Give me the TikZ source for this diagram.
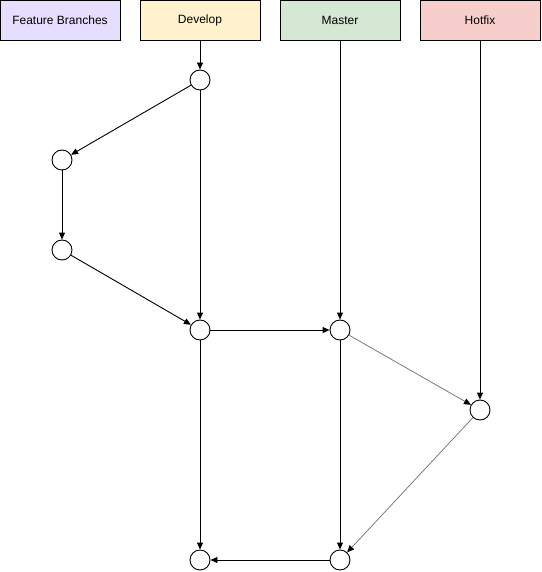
\documentclass[tikz,border=0pt]{standalone}
\usepackage{fontspec}
\setmainfont{Liberation Sans}
\usepackage{xcolor}
\usetikzlibrary{arrows.meta}

\definecolor{featfill}{HTML}{E6DEFF}
\definecolor{devfill}{HTML}{FFF2CC}
\definecolor{mastfill}{HTML}{D5E8D4}
\definecolor{hotfill}{HTML}{F8CECC}
\definecolor{hotline}{HTML}{6E6E6E}

\tikzset{
  branch/.style={draw, line width=0.9pt, minimum width=120pt, minimum height=40pt,
    inner sep=0pt, font=\fontsize{12}{14}\selectfont},
  commit/.style={draw, circle, line width=0.9pt, minimum size=20pt, inner sep=0pt, fill=white},
  flow/.style={line width=0.9pt, -{Triangle[length=7pt,width=6pt]}},
  fixflow/.style={draw=hotline, line width=0.7pt, -{Triangle[length=7pt,width=6pt,color=black]}}
}

\begin{document}
\begin{tikzpicture}[x=1pt, y=-1pt]
    \useasboundingbox (0,0) rectangle (541,572);

    % Branch headers
    \node[branch, fill=featfill] (feat) at (60,20) {Feature Branches};
    \node[branch, fill=devfill] (dev) at (200,20) {Develop};
    \node[branch, fill=mastfill] (mast) at (340,20) {Master};
    \node[branch, fill=hotfill] (hot) at (480,20) {Hotfix};

    % Commits
    \node[commit] (d1) at (200,80) {};
    \node[commit] (f1) at (62,160) {};
    \node[commit] (f2) at (62,250) {};
    \node[commit] (d2) at (200,330) {};
    \node[commit] (m1) at (340,330) {};
    \node[commit] (h1) at (480,410) {};
    \node[commit] (d3) at (200,560) {};
    \node[commit] (m2) at (340,560) {};

    % Develop
    \draw[flow] (dev) -- (d1);
    \draw[flow] (d1) -- (d2);
    \draw[flow] (d2) -- (d3);

    % Feature branch
    \draw[flow] (d1) -- (f1);
    \draw[flow] (f1) -- (f2);
    \draw[flow] (f2) -- (d2);

    % Master
    \draw[flow] (mast) -- (m1);
    \draw[flow] (d2) -- (m1);
    \draw[flow] (m1) -- (m2);
    \draw[flow] (m2) -- (d3);

    % Hotfix
    \draw[flow] (hot) -- (h1);
    \draw[fixflow] (m1) -- (h1);
    \draw[fixflow] (h1) -- (m2);
\end{tikzpicture}
\end{document}
